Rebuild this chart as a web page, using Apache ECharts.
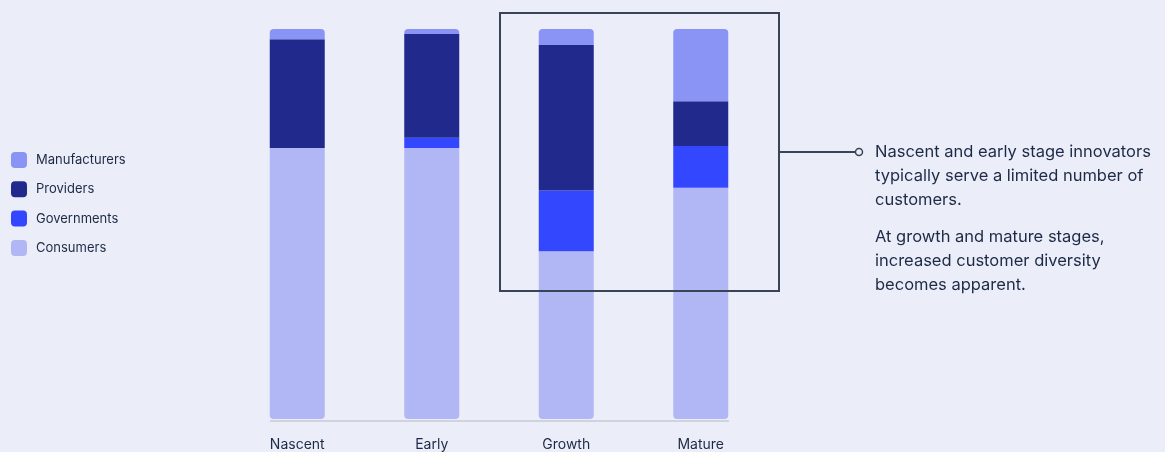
<!DOCTYPE html>
<html>
<head>
<meta charset="utf-8">
<script src="https://cdn.jsdelivr.net/npm/echarts@6/dist/echarts.min.js"></script>
<style>
  html, body { margin: 0; padding: 0; background: #ebedf9; }
  #chart { width: 1165px; height: 452px; }
</style>
</head>
<body>
<div id="chart"></div>
<script>
// customer mix by stage (share of customers, %)
var stages = ['Nascent', 'Early', 'Growth', 'Mature'];
var consumers = [69.5, 69.5, 43.0, 59.3];
var governments = [0, 2.6, 15.6, 10.7];
var providers = [27.9, 26.6, 37.3, 11.5];
var manufacturers = [2.6, 1.3, 4.1, 18.5];

var legendOrder = ['Manufacturers', 'Providers', 'Governments', 'Consumers'];
var noteLines1 = ['Nascent and early stage innovators', 'typically serve a limited number of', 'customers.'];
var noteLines2 = ['At growth and mature stages,', 'increased customer diversity', 'becomes apparent.'];

var font = 'Inter, "Open Sans", sans-serif';
var ink = '#1c2a45';

var makeSeries = function (name, data, color, radius) {
	return {
		name: name,
		type: 'bar',
		stack: 'mix',
		barWidth: 55,
		data: data,
		itemStyle: { color: color, borderRadius: radius },
		emphasis: { disabled: true }
	};
};

var option = {
	backgroundColor: '#ebedf9',
	animation: false,
	textStyle: { fontFamily: font },
	grid: { left: 230, right: 397, top: 29, bottom: 32 },
	legend: {
		data: legendOrder,
		orient: 'vertical',
		left: 6,
		top: 147,
		itemWidth: 16,
		itemHeight: 16,
		itemGap: 13.3,
		icon: 'roundRect',
		textStyle: { color: ink, fontSize: 13, fontFamily: font, padding: [0, 0, 0, 4] },
		selectedMode: false
	},
	xAxis: {
		type: 'category',
		data: stages,
		axisLine: { show: false },
		axisTick: { show: false },
		axisLabel: { color: ink, fontSize: 14, margin: 19, fontFamily: font }
	},
	yAxis: {
		type: 'value',
		min: 0,
		max: 100,
		show: false,
		splitLine: { show: false }
	},
	series: [
		makeSeries('Consumers', consumers, '#b1b7f5', [0, 0, 4, 4]),
		makeSeries('Governments', governments, '#3347ff', 0),
		makeSeries('Providers', providers, '#212a8c', 0),
		makeSeries('Manufacturers', manufacturers, '#8a94f4', [4, 4, 0, 0])
	],
	graphic: [
		// baseline under the bars
		{ type: 'line', shape: { x1: 270, y1: 421, x2: 729, y2: 421 }, style: { stroke: '#d0d3de', lineWidth: 2 }, z: 1 },
		// highlight box around growth / mature
		{ type: 'rect', shape: { x: 500, y: 13, width: 279, height: 278 }, style: { fill: null, stroke: '#3a4457', lineWidth: 2 }, z: 10 },
		{ type: 'line', shape: { x1: 780, y1: 152, x2: 855, y2: 152 }, style: { stroke: '#3a4457', lineWidth: 2 }, z: 10 },
		{ type: 'circle', shape: { cx: 859, cy: 152, r: 3.5 }, style: { fill: '#ebedf9', stroke: '#3a4457', lineWidth: 1.5 }, z: 10 },
		{ type: 'text', left: 875, top: 140, style: { text: noteLines1.join('\n'), fill: ink, font: '16.5px ' + font, lineHeight: 24 } },
		{ type: 'text', left: 875, top: 225, style: { text: noteLines2.join('\n'), fill: ink, font: '16.5px ' + font, lineHeight: 24 } }
	]
};

var chart = echarts.init(document.getElementById('chart'));
chart.setOption(option);
</script>
</body>
</html>
